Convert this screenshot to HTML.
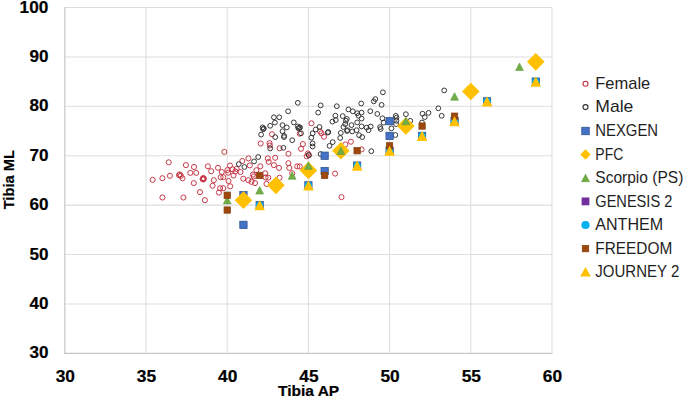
<!DOCTYPE html>
<html><head><meta charset="utf-8"><title>Tibia scatter</title>
<style>
html,body{margin:0;padding:0;background:#fff;}
body{width:685px;height:398px;overflow:hidden;}
svg{display:block;}
.tk{font-family:"Liberation Sans",sans-serif;font-weight:bold;font-size:17px;fill:#000;stroke:#000;stroke-width:0.2px;}
.ax{font-family:"Liberation Sans",sans-serif;font-weight:bold;font-size:15px;fill:#000;stroke:#000;stroke-width:0.2px;}
.lg{font-family:"Liberation Sans",sans-serif;font-size:16.6px;fill:#1e1e1e;}
</style></head>
<body>
<svg width="685" height="398" viewBox="0 0 685 398">
<rect width="685" height="398" fill="#fff"/>
<path d="M64.8 303.9H552M64.8 254.5H552M64.8 205.1H552M64.8 155.7H552M64.8 106.3H552M64.8 56.9H552M64.8 7.5H552M146 7.5V353.3M227.2 7.5V353.3M308.4 7.5V353.3M389.6 7.5V353.3M470.8 7.5V353.3M552 7.5V353.3" stroke="#dedede" stroke-width="1.05" fill="none"/>
<path d="M64.8 7V353.3H552.5" stroke="#c6c6c6" stroke-width="1.2" fill="none"/>
<text x="48.4" y="358.35" text-anchor="end" class="tk" textLength="19" lengthAdjust="spacingAndGlyphs">30</text>
<text x="48.4" y="308.95" text-anchor="end" class="tk" textLength="19" lengthAdjust="spacingAndGlyphs">40</text>
<text x="48.4" y="259.55" text-anchor="end" class="tk" textLength="19" lengthAdjust="spacingAndGlyphs">50</text>
<text x="48.4" y="210.15" text-anchor="end" class="tk" textLength="19" lengthAdjust="spacingAndGlyphs">60</text>
<text x="48.4" y="160.75" text-anchor="end" class="tk" textLength="19" lengthAdjust="spacingAndGlyphs">70</text>
<text x="48.4" y="111.35" text-anchor="end" class="tk" textLength="19" lengthAdjust="spacingAndGlyphs">80</text>
<text x="48.4" y="61.95" text-anchor="end" class="tk" textLength="19" lengthAdjust="spacingAndGlyphs">90</text>
<text x="48.4" y="12.55" text-anchor="end" class="tk" textLength="28.8" lengthAdjust="spacingAndGlyphs">100</text>
<text x="65.3" y="381.9" text-anchor="middle" class="tk" textLength="19.3" lengthAdjust="spacingAndGlyphs">30</text>
<text x="146.5" y="381.9" text-anchor="middle" class="tk" textLength="19.3" lengthAdjust="spacingAndGlyphs">35</text>
<text x="227.7" y="381.9" text-anchor="middle" class="tk" textLength="19.3" lengthAdjust="spacingAndGlyphs">40</text>
<text x="308.9" y="381.9" text-anchor="middle" class="tk" textLength="19.3" lengthAdjust="spacingAndGlyphs">45</text>
<text x="390.1" y="381.9" text-anchor="middle" class="tk" textLength="19.3" lengthAdjust="spacingAndGlyphs">50</text>
<text x="471.3" y="381.9" text-anchor="middle" class="tk" textLength="19.3" lengthAdjust="spacingAndGlyphs">55</text>
<text x="552.5" y="381.9" text-anchor="middle" class="tk" textLength="19.3" lengthAdjust="spacingAndGlyphs">60</text>
<text x="308.6" y="396.2" text-anchor="middle" class="ax" textLength="61.3" lengthAdjust="spacingAndGlyphs">Tibia AP</text>
<text transform="translate(13.7 179.7) rotate(-90)" x="0" y="0" text-anchor="middle" class="ax" textLength="59.3" lengthAdjust="spacingAndGlyphs">Tibia ML</text>
<circle cx="152.6" cy="179.8" r="2.55" fill="none" stroke="#c3303f" stroke-width="0.95"/>
<circle cx="162.4" cy="178.2" r="2.55" fill="none" stroke="#c3303f" stroke-width="0.95"/>
<circle cx="168.7" cy="162.3" r="2.55" fill="none" stroke="#c3303f" stroke-width="0.95"/>
<circle cx="169.9" cy="175.8" r="2.55" fill="none" stroke="#c3303f" stroke-width="0.95"/>
<circle cx="179" cy="175.1" r="2.55" fill="none" stroke="#c3303f" stroke-width="0.95"/>
<circle cx="180.8" cy="175.8" r="2.55" fill="none" stroke="#c3303f" stroke-width="0.95"/>
<circle cx="182.5" cy="178.3" r="2.55" fill="none" stroke="#c3303f" stroke-width="0.95"/>
<circle cx="185.9" cy="165.1" r="2.55" fill="none" stroke="#c3303f" stroke-width="0.95"/>
<circle cx="190.3" cy="172.9" r="2.55" fill="none" stroke="#c3303f" stroke-width="0.95"/>
<circle cx="194" cy="167" r="2.55" fill="none" stroke="#c3303f" stroke-width="0.95"/>
<circle cx="196.2" cy="172.9" r="2.55" fill="none" stroke="#c3303f" stroke-width="0.95"/>
<circle cx="193.8" cy="183.1" r="2.55" fill="none" stroke="#c3303f" stroke-width="0.95"/>
<circle cx="200" cy="192.1" r="2.55" fill="none" stroke="#c3303f" stroke-width="0.95"/>
<circle cx="162.4" cy="197.5" r="2.55" fill="none" stroke="#c3303f" stroke-width="0.95"/>
<circle cx="183.4" cy="197.5" r="2.55" fill="none" stroke="#c3303f" stroke-width="0.95"/>
<circle cx="204.9" cy="200.2" r="2.55" fill="none" stroke="#c3303f" stroke-width="0.95"/>
<circle cx="203.3" cy="178" r="2.55" fill="none" stroke="#c3303f" stroke-width="0.95"/>
<circle cx="203.3" cy="179.5" r="2.55" fill="none" stroke="#c3303f" stroke-width="0.95"/>
<circle cx="207.9" cy="166.3" r="2.55" fill="none" stroke="#c3303f" stroke-width="0.95"/>
<circle cx="211.2" cy="171.2" r="2.55" fill="none" stroke="#c3303f" stroke-width="0.95"/>
<circle cx="212.6" cy="185.7" r="2.55" fill="none" stroke="#c3303f" stroke-width="0.95"/>
<circle cx="213.8" cy="180.2" r="2.55" fill="none" stroke="#c3303f" stroke-width="0.95"/>
<circle cx="218" cy="167.8" r="2.55" fill="none" stroke="#c3303f" stroke-width="0.95"/>
<circle cx="221.8" cy="172" r="2.55" fill="none" stroke="#c3303f" stroke-width="0.95"/>
<circle cx="220.6" cy="177.2" r="2.55" fill="none" stroke="#c3303f" stroke-width="0.95"/>
<circle cx="223.3" cy="177.2" r="2.55" fill="none" stroke="#c3303f" stroke-width="0.95"/>
<circle cx="220.1" cy="188.2" r="2.55" fill="none" stroke="#c3303f" stroke-width="0.95"/>
<circle cx="223.2" cy="188.2" r="2.55" fill="none" stroke="#c3303f" stroke-width="0.95"/>
<circle cx="218.9" cy="192.6" r="2.55" fill="none" stroke="#c3303f" stroke-width="0.95"/>
<circle cx="224.3" cy="151.9" r="2.55" fill="none" stroke="#c3303f" stroke-width="0.95"/>
<circle cx="230" cy="165.5" r="2.55" fill="none" stroke="#c3303f" stroke-width="0.95"/>
<circle cx="227.4" cy="170.1" r="2.55" fill="none" stroke="#c3303f" stroke-width="0.95"/>
<circle cx="228.2" cy="172.7" r="2.55" fill="none" stroke="#c3303f" stroke-width="0.95"/>
<circle cx="228.5" cy="181" r="2.55" fill="none" stroke="#c3303f" stroke-width="0.95"/>
<circle cx="230.2" cy="186.3" r="2.55" fill="none" stroke="#c3303f" stroke-width="0.95"/>
<circle cx="232.6" cy="169.3" r="2.55" fill="none" stroke="#c3303f" stroke-width="0.95"/>
<circle cx="236.6" cy="168.9" r="2.55" fill="none" stroke="#c3303f" stroke-width="0.95"/>
<circle cx="235.3" cy="171.5" r="2.55" fill="none" stroke="#c3303f" stroke-width="0.95"/>
<circle cx="233.5" cy="175.5" r="2.55" fill="none" stroke="#c3303f" stroke-width="0.95"/>
<circle cx="240.5" cy="172" r="2.55" fill="none" stroke="#c3303f" stroke-width="0.95"/>
<circle cx="242.3" cy="161" r="2.55" fill="none" stroke="#c3303f" stroke-width="0.95"/>
<circle cx="248.5" cy="158.4" r="2.55" fill="none" stroke="#c3303f" stroke-width="0.95"/>
<circle cx="249.8" cy="165.4" r="2.55" fill="none" stroke="#c3303f" stroke-width="0.95"/>
<circle cx="243.3" cy="178.7" r="2.55" fill="none" stroke="#c3303f" stroke-width="0.95"/>
<circle cx="248.4" cy="180.2" r="2.55" fill="none" stroke="#c3303f" stroke-width="0.95"/>
<circle cx="251.5" cy="181.8" r="2.55" fill="none" stroke="#c3303f" stroke-width="0.95"/>
<circle cx="255" cy="183.1" r="2.55" fill="none" stroke="#c3303f" stroke-width="0.95"/>
<circle cx="252.9" cy="174.6" r="2.55" fill="none" stroke="#c3303f" stroke-width="0.95"/>
<circle cx="256.4" cy="170.2" r="2.55" fill="none" stroke="#c3303f" stroke-width="0.95"/>
<circle cx="260.3" cy="166.3" r="2.55" fill="none" stroke="#c3303f" stroke-width="0.95"/>
<circle cx="265.2" cy="173.3" r="2.55" fill="none" stroke="#c3303f" stroke-width="0.95"/>
<circle cx="265.6" cy="177.5" r="2.55" fill="none" stroke="#c3303f" stroke-width="0.95"/>
<circle cx="268.3" cy="177.7" r="2.55" fill="none" stroke="#c3303f" stroke-width="0.95"/>
<circle cx="266.5" cy="183.9" r="2.55" fill="none" stroke="#c3303f" stroke-width="0.95"/>
<circle cx="267.8" cy="158.4" r="2.55" fill="none" stroke="#c3303f" stroke-width="0.95"/>
<circle cx="268.7" cy="161.9" r="2.55" fill="none" stroke="#c3303f" stroke-width="0.95"/>
<circle cx="273.9" cy="165.1" r="2.55" fill="none" stroke="#c3303f" stroke-width="0.95"/>
<circle cx="275.2" cy="157.8" r="2.55" fill="none" stroke="#c3303f" stroke-width="0.95"/>
<circle cx="279" cy="167.9" r="2.55" fill="none" stroke="#c3303f" stroke-width="0.95"/>
<circle cx="279.6" cy="177.7" r="2.55" fill="none" stroke="#c3303f" stroke-width="0.95"/>
<circle cx="288.4" cy="163.2" r="2.55" fill="none" stroke="#c3303f" stroke-width="0.95"/>
<circle cx="289.3" cy="167.9" r="2.55" fill="none" stroke="#c3303f" stroke-width="0.95"/>
<circle cx="288.4" cy="153.8" r="2.55" fill="none" stroke="#c3303f" stroke-width="0.95"/>
<circle cx="292.2" cy="173.3" r="2.55" fill="none" stroke="#c3303f" stroke-width="0.95"/>
<circle cx="297.2" cy="166.4" r="2.55" fill="none" stroke="#c3303f" stroke-width="0.95"/>
<circle cx="299.7" cy="166.4" r="2.55" fill="none" stroke="#c3303f" stroke-width="0.95"/>
<circle cx="260.7" cy="143.5" r="2.55" fill="none" stroke="#c3303f" stroke-width="0.95"/>
<circle cx="269.5" cy="143.1" r="2.55" fill="none" stroke="#c3303f" stroke-width="0.95"/>
<circle cx="269.9" cy="145.5" r="2.55" fill="none" stroke="#c3303f" stroke-width="0.95"/>
<circle cx="279.6" cy="148.3" r="2.55" fill="none" stroke="#c3303f" stroke-width="0.95"/>
<circle cx="272" cy="134.2" r="2.55" fill="none" stroke="#c3303f" stroke-width="0.95"/>
<circle cx="299.7" cy="133.7" r="2.55" fill="none" stroke="#c3303f" stroke-width="0.95"/>
<circle cx="302.9" cy="144.1" r="2.55" fill="none" stroke="#c3303f" stroke-width="0.95"/>
<circle cx="301" cy="148.8" r="2.55" fill="none" stroke="#c3303f" stroke-width="0.95"/>
<circle cx="307.9" cy="153.5" r="2.55" fill="none" stroke="#c3303f" stroke-width="0.95"/>
<circle cx="308.8" cy="155.1" r="2.55" fill="none" stroke="#c3303f" stroke-width="0.95"/>
<circle cx="306.7" cy="156.3" r="2.55" fill="none" stroke="#c3303f" stroke-width="0.95"/>
<circle cx="311.5" cy="123.3" r="2.55" fill="none" stroke="#c3303f" stroke-width="0.95"/>
<circle cx="320.1" cy="131.4" r="2.55" fill="none" stroke="#c3303f" stroke-width="0.95"/>
<circle cx="321.4" cy="133.3" r="2.55" fill="none" stroke="#c3303f" stroke-width="0.95"/>
<circle cx="323.9" cy="136.7" r="2.55" fill="none" stroke="#c3303f" stroke-width="0.95"/>
<circle cx="345.3" cy="144.5" r="2.55" fill="none" stroke="#c3303f" stroke-width="0.95"/>
<circle cx="350.9" cy="141.7" r="2.55" fill="none" stroke="#c3303f" stroke-width="0.95"/>
<circle cx="361.6" cy="149.4" r="2.55" fill="none" stroke="#c3303f" stroke-width="0.95"/>
<circle cx="335.1" cy="173.6" r="2.55" fill="none" stroke="#c3303f" stroke-width="0.95"/>
<circle cx="341.5" cy="197.1" r="2.55" fill="none" stroke="#c3303f" stroke-width="0.95"/>
<circle cx="253.8" cy="176.4" r="2.55" fill="none" stroke="#c3303f" stroke-width="0.95"/>
<circle cx="179.8" cy="174.4" r="2.55" fill="none" stroke="#c3303f" stroke-width="0.95"/>
<circle cx="203.9" cy="178.6" r="2.55" fill="none" stroke="#c3303f" stroke-width="0.95"/>
<circle cx="202.6" cy="179" r="2.55" fill="none" stroke="#c3303f" stroke-width="0.95"/>
<circle cx="297.8" cy="102.8" r="2.4" fill="none" stroke="#2e2e2e" stroke-width="0.95"/>
<circle cx="288.1" cy="111.3" r="2.4" fill="none" stroke="#2e2e2e" stroke-width="0.95"/>
<circle cx="273.9" cy="117.3" r="2.4" fill="none" stroke="#2e2e2e" stroke-width="0.95"/>
<circle cx="279.2" cy="117.3" r="2.4" fill="none" stroke="#2e2e2e" stroke-width="0.95"/>
<circle cx="274.9" cy="122.6" r="2.4" fill="none" stroke="#2e2e2e" stroke-width="0.95"/>
<circle cx="270.2" cy="125.8" r="2.4" fill="none" stroke="#2e2e2e" stroke-width="0.95"/>
<circle cx="262.6" cy="127.4" r="2.4" fill="none" stroke="#2e2e2e" stroke-width="0.95"/>
<circle cx="263.2" cy="129.2" r="2.4" fill="none" stroke="#2e2e2e" stroke-width="0.95"/>
<circle cx="282.5" cy="125.1" r="2.4" fill="none" stroke="#2e2e2e" stroke-width="0.95"/>
<circle cx="286.8" cy="127.4" r="2.4" fill="none" stroke="#2e2e2e" stroke-width="0.95"/>
<circle cx="293.8" cy="122.4" r="2.4" fill="none" stroke="#2e2e2e" stroke-width="0.95"/>
<circle cx="297.8" cy="126.4" r="2.4" fill="none" stroke="#2e2e2e" stroke-width="0.95"/>
<circle cx="300.1" cy="127.4" r="2.4" fill="none" stroke="#2e2e2e" stroke-width="0.95"/>
<circle cx="298.4" cy="128.3" r="2.4" fill="none" stroke="#2e2e2e" stroke-width="0.95"/>
<circle cx="261.1" cy="134.6" r="2.4" fill="none" stroke="#2e2e2e" stroke-width="0.95"/>
<circle cx="282.5" cy="131.2" r="2.4" fill="none" stroke="#2e2e2e" stroke-width="0.95"/>
<circle cx="284.2" cy="135.8" r="2.4" fill="none" stroke="#2e2e2e" stroke-width="0.95"/>
<circle cx="284" cy="137.1" r="2.4" fill="none" stroke="#2e2e2e" stroke-width="0.95"/>
<circle cx="275.2" cy="137.1" r="2.4" fill="none" stroke="#2e2e2e" stroke-width="0.95"/>
<circle cx="292.2" cy="140.2" r="2.4" fill="none" stroke="#2e2e2e" stroke-width="0.95"/>
<circle cx="270.2" cy="148.4" r="2.4" fill="none" stroke="#2e2e2e" stroke-width="0.95"/>
<circle cx="283.4" cy="147.8" r="2.4" fill="none" stroke="#2e2e2e" stroke-width="0.95"/>
<circle cx="258.2" cy="157" r="2.4" fill="none" stroke="#2e2e2e" stroke-width="0.95"/>
<circle cx="254.1" cy="161.4" r="2.4" fill="none" stroke="#2e2e2e" stroke-width="0.95"/>
<circle cx="244.4" cy="167" r="2.4" fill="none" stroke="#2e2e2e" stroke-width="0.95"/>
<circle cx="238.8" cy="164.1" r="2.4" fill="none" stroke="#2e2e2e" stroke-width="0.95"/>
<circle cx="320.7" cy="105.4" r="2.4" fill="none" stroke="#2e2e2e" stroke-width="0.95"/>
<circle cx="336.8" cy="106.2" r="2.4" fill="none" stroke="#2e2e2e" stroke-width="0.95"/>
<circle cx="361.2" cy="103.5" r="2.4" fill="none" stroke="#2e2e2e" stroke-width="0.95"/>
<circle cx="318.2" cy="112.6" r="2.4" fill="none" stroke="#2e2e2e" stroke-width="0.95"/>
<circle cx="348.4" cy="109.4" r="2.4" fill="none" stroke="#2e2e2e" stroke-width="0.95"/>
<circle cx="352.8" cy="111.3" r="2.4" fill="none" stroke="#2e2e2e" stroke-width="0.95"/>
<circle cx="357.2" cy="113.2" r="2.4" fill="none" stroke="#2e2e2e" stroke-width="0.95"/>
<circle cx="361.6" cy="112.6" r="2.4" fill="none" stroke="#2e2e2e" stroke-width="0.95"/>
<circle cx="358.4" cy="115.7" r="2.4" fill="none" stroke="#2e2e2e" stroke-width="0.95"/>
<circle cx="361.6" cy="118.6" r="2.4" fill="none" stroke="#2e2e2e" stroke-width="0.95"/>
<circle cx="335.4" cy="115.7" r="2.4" fill="none" stroke="#2e2e2e" stroke-width="0.95"/>
<circle cx="342.7" cy="116.1" r="2.4" fill="none" stroke="#2e2e2e" stroke-width="0.95"/>
<circle cx="335.8" cy="120.1" r="2.4" fill="none" stroke="#2e2e2e" stroke-width="0.95"/>
<circle cx="332.4" cy="121.6" r="2.4" fill="none" stroke="#2e2e2e" stroke-width="0.95"/>
<circle cx="346.8" cy="118.9" r="2.4" fill="none" stroke="#2e2e2e" stroke-width="0.95"/>
<circle cx="345.9" cy="120.7" r="2.4" fill="none" stroke="#2e2e2e" stroke-width="0.95"/>
<circle cx="345.2" cy="124.1" r="2.4" fill="none" stroke="#2e2e2e" stroke-width="0.95"/>
<circle cx="343.4" cy="127" r="2.4" fill="none" stroke="#2e2e2e" stroke-width="0.95"/>
<circle cx="351.5" cy="125.1" r="2.4" fill="none" stroke="#2e2e2e" stroke-width="0.95"/>
<circle cx="357.2" cy="122.4" r="2.4" fill="none" stroke="#2e2e2e" stroke-width="0.95"/>
<circle cx="361.6" cy="126.4" r="2.4" fill="none" stroke="#2e2e2e" stroke-width="0.95"/>
<circle cx="366.6" cy="127.6" r="2.4" fill="none" stroke="#2e2e2e" stroke-width="0.95"/>
<circle cx="368.5" cy="130.2" r="2.4" fill="none" stroke="#2e2e2e" stroke-width="0.95"/>
<circle cx="347.5" cy="130.2" r="2.4" fill="none" stroke="#2e2e2e" stroke-width="0.95"/>
<circle cx="352.2" cy="131.4" r="2.4" fill="none" stroke="#2e2e2e" stroke-width="0.95"/>
<circle cx="356.6" cy="130.2" r="2.4" fill="none" stroke="#2e2e2e" stroke-width="0.95"/>
<circle cx="359.1" cy="135.2" r="2.4" fill="none" stroke="#2e2e2e" stroke-width="0.95"/>
<circle cx="362.2" cy="137.1" r="2.4" fill="none" stroke="#2e2e2e" stroke-width="0.95"/>
<circle cx="340.8" cy="132.9" r="2.4" fill="none" stroke="#2e2e2e" stroke-width="0.95"/>
<circle cx="340.2" cy="138" r="2.4" fill="none" stroke="#2e2e2e" stroke-width="0.95"/>
<circle cx="319.5" cy="127" r="2.4" fill="none" stroke="#2e2e2e" stroke-width="0.95"/>
<circle cx="315.7" cy="129.5" r="2.4" fill="none" stroke="#2e2e2e" stroke-width="0.95"/>
<circle cx="312.6" cy="133.3" r="2.4" fill="none" stroke="#2e2e2e" stroke-width="0.95"/>
<circle cx="311.3" cy="137.7" r="2.4" fill="none" stroke="#2e2e2e" stroke-width="0.95"/>
<circle cx="312.6" cy="143.4" r="2.4" fill="none" stroke="#2e2e2e" stroke-width="0.95"/>
<circle cx="312.6" cy="146.5" r="2.4" fill="none" stroke="#2e2e2e" stroke-width="0.95"/>
<circle cx="328.3" cy="132" r="2.4" fill="none" stroke="#2e2e2e" stroke-width="0.95"/>
<circle cx="332.7" cy="142.1" r="2.4" fill="none" stroke="#2e2e2e" stroke-width="0.95"/>
<circle cx="329.5" cy="145.9" r="2.4" fill="none" stroke="#2e2e2e" stroke-width="0.95"/>
<circle cx="301" cy="133.3" r="2.4" fill="none" stroke="#2e2e2e" stroke-width="0.95"/>
<circle cx="308.8" cy="155.1" r="2.4" fill="none" stroke="#2e2e2e" stroke-width="0.95"/>
<circle cx="320.6" cy="154" r="2.4" fill="none" stroke="#2e2e2e" stroke-width="0.95"/>
<circle cx="382.9" cy="92.3" r="2.4" fill="none" stroke="#2e2e2e" stroke-width="0.95"/>
<circle cx="375.3" cy="99.1" r="2.4" fill="none" stroke="#2e2e2e" stroke-width="0.95"/>
<circle cx="373.8" cy="101.4" r="2.4" fill="none" stroke="#2e2e2e" stroke-width="0.95"/>
<circle cx="381.6" cy="104.9" r="2.4" fill="none" stroke="#2e2e2e" stroke-width="0.95"/>
<circle cx="370.3" cy="111.2" r="2.4" fill="none" stroke="#2e2e2e" stroke-width="0.95"/>
<circle cx="377.3" cy="113.9" r="2.4" fill="none" stroke="#2e2e2e" stroke-width="0.95"/>
<circle cx="382.4" cy="118.3" r="2.4" fill="none" stroke="#2e2e2e" stroke-width="0.95"/>
<circle cx="383.6" cy="122.7" r="2.4" fill="none" stroke="#2e2e2e" stroke-width="0.95"/>
<circle cx="395.8" cy="115.8" r="2.4" fill="none" stroke="#2e2e2e" stroke-width="0.95"/>
<circle cx="396.4" cy="117.7" r="2.4" fill="none" stroke="#2e2e2e" stroke-width="0.95"/>
<circle cx="396.4" cy="120.8" r="2.4" fill="none" stroke="#2e2e2e" stroke-width="0.95"/>
<circle cx="405.9" cy="114.2" r="2.4" fill="none" stroke="#2e2e2e" stroke-width="0.95"/>
<circle cx="410.3" cy="120.8" r="2.4" fill="none" stroke="#2e2e2e" stroke-width="0.95"/>
<circle cx="422.5" cy="113.7" r="2.4" fill="none" stroke="#2e2e2e" stroke-width="0.95"/>
<circle cx="424.7" cy="117.1" r="2.4" fill="none" stroke="#2e2e2e" stroke-width="0.95"/>
<circle cx="428.5" cy="112.9" r="2.4" fill="none" stroke="#2e2e2e" stroke-width="0.95"/>
<circle cx="370.7" cy="126.5" r="2.4" fill="none" stroke="#2e2e2e" stroke-width="0.95"/>
<circle cx="380.1" cy="127.1" r="2.4" fill="none" stroke="#2e2e2e" stroke-width="0.95"/>
<circle cx="380.7" cy="129" r="2.4" fill="none" stroke="#2e2e2e" stroke-width="0.95"/>
<circle cx="391.4" cy="128.4" r="2.4" fill="none" stroke="#2e2e2e" stroke-width="0.95"/>
<circle cx="396.1" cy="124.1" r="2.4" fill="none" stroke="#2e2e2e" stroke-width="0.95"/>
<circle cx="395.4" cy="135" r="2.4" fill="none" stroke="#2e2e2e" stroke-width="0.95"/>
<circle cx="438.3" cy="108.3" r="2.4" fill="none" stroke="#2e2e2e" stroke-width="0.95"/>
<circle cx="441.7" cy="115.8" r="2.4" fill="none" stroke="#2e2e2e" stroke-width="0.95"/>
<circle cx="444.2" cy="90.4" r="2.4" fill="none" stroke="#2e2e2e" stroke-width="0.95"/>
<circle cx="371.3" cy="151.2" r="2.4" fill="none" stroke="#2e2e2e" stroke-width="0.95"/>
<circle cx="422" cy="122.5" r="2.4" fill="none" stroke="#2e2e2e" stroke-width="0.95"/>
<circle cx="327.8" cy="132.6" r="2.4" fill="none" stroke="#2e2e2e" stroke-width="0.95"/>
<circle cx="263.9" cy="128.5" r="2.4" fill="none" stroke="#2e2e2e" stroke-width="0.95"/>
<circle cx="299.3" cy="127.8" r="2.4" fill="none" stroke="#2e2e2e" stroke-width="0.95"/>
<circle cx="347" cy="131" r="2.4" fill="none" stroke="#2e2e2e" stroke-width="0.95"/>
<rect x="239.79" y="191.57" width="7.3" height="7.3" fill="#4472c4" stroke="#2c4f8f" stroke-width="0.75"/>
<rect x="239.79" y="221.21" width="7.3" height="7.3" fill="#4472c4" stroke="#2c4f8f" stroke-width="0.75"/>
<rect x="256.03" y="201.45" width="7.3" height="7.3" fill="#4472c4" stroke="#2c4f8f" stroke-width="0.75"/>
<rect x="304.75" y="181.69" width="7.3" height="7.3" fill="#4472c4" stroke="#2c4f8f" stroke-width="0.75"/>
<rect x="320.99" y="152.05" width="7.3" height="7.3" fill="#4472c4" stroke="#2c4f8f" stroke-width="0.75"/>
<rect x="320.99" y="167.36" width="7.3" height="7.3" fill="#4472c4" stroke="#2c4f8f" stroke-width="0.75"/>
<rect x="353.47" y="161.93" width="7.3" height="7.3" fill="#4472c4" stroke="#2c4f8f" stroke-width="0.75"/>
<rect x="385.95" y="117.47" width="7.3" height="7.3" fill="#4472c4" stroke="#2c4f8f" stroke-width="0.75"/>
<rect x="385.95" y="132.29" width="7.3" height="7.3" fill="#4472c4" stroke="#2c4f8f" stroke-width="0.75"/>
<rect x="385.95" y="147.11" width="7.3" height="7.3" fill="#4472c4" stroke="#2c4f8f" stroke-width="0.75"/>
<rect x="418.43" y="132.29" width="7.3" height="7.3" fill="#4472c4" stroke="#2c4f8f" stroke-width="0.75"/>
<rect x="450.91" y="117.47" width="7.3" height="7.3" fill="#4472c4" stroke="#2c4f8f" stroke-width="0.75"/>
<rect x="483.39" y="97.71" width="7.3" height="7.3" fill="#4472c4" stroke="#2c4f8f" stroke-width="0.75"/>
<rect x="532.11" y="77.95" width="7.3" height="7.3" fill="#4472c4" stroke="#2c4f8f" stroke-width="0.75"/>
<path d="M243.44 191.36L252.24 200.16L243.44 208.96L234.64 200.16Z" fill="#ffc000"/>
<path d="M275.92 176.54L284.72 185.34L275.92 194.14L267.12 185.34Z" fill="#ffc000"/>
<path d="M308.4 161.72L317.2 170.52L308.4 179.32L299.6 170.52Z" fill="#ffc000"/>
<path d="M340.88 141.96L349.68 150.76L340.88 159.56L332.08 150.76Z" fill="#ffc000"/>
<path d="M405.84 117.26L414.64 126.06L405.84 134.86L397.04 126.06Z" fill="#ffc000"/>
<path d="M470.8 82.68L479.6 91.48L470.8 100.28L462 91.48Z" fill="#ffc000"/>
<path d="M535.76 53.04L544.56 61.84L535.76 70.64L526.96 61.84Z" fill="#ffc000"/>
<path d="M227.2 196.41L231.1 203.91L223.3 203.91Z" fill="#70ad47" stroke="#5e9a3a" stroke-width="0.6"/>
<path d="M259.68 186.53L263.58 194.03L255.78 194.03Z" fill="#70ad47" stroke="#5e9a3a" stroke-width="0.6"/>
<path d="M292.16 171.71L296.06 179.21L288.26 179.21Z" fill="#70ad47" stroke="#5e9a3a" stroke-width="0.6"/>
<path d="M308.4 161.83L312.3 169.33L304.5 169.33Z" fill="#70ad47" stroke="#5e9a3a" stroke-width="0.6"/>
<path d="M340.88 147.01L344.78 154.51L336.98 154.51Z" fill="#70ad47" stroke="#5e9a3a" stroke-width="0.6"/>
<path d="M405.84 117.37L409.74 124.87L401.94 124.87Z" fill="#70ad47" stroke="#5e9a3a" stroke-width="0.6"/>
<path d="M454.56 92.67L458.46 100.17L450.66 100.17Z" fill="#70ad47" stroke="#5e9a3a" stroke-width="0.6"/>
<path d="M519.52 63.03L523.42 70.53L515.62 70.53Z" fill="#70ad47" stroke="#5e9a3a" stroke-width="0.6"/>
<circle cx="259.68" cy="205.1" r="3.7" fill="#00b0f0"/>
<circle cx="308.4" cy="185.34" r="3.7" fill="#00b0f0"/>
<circle cx="357.12" cy="165.58" r="3.7" fill="#00b0f0"/>
<circle cx="389.6" cy="150.76" r="3.7" fill="#00b0f0"/>
<circle cx="422.08" cy="135.94" r="3.7" fill="#00b0f0"/>
<circle cx="454.56" cy="121.12" r="3.7" fill="#00b0f0"/>
<circle cx="487.04" cy="101.36" r="3.7" fill="#00b0f0"/>
<circle cx="535.76" cy="81.6" r="3.7" fill="#00b0f0"/>
<rect x="224.05" y="192.07" width="6.3" height="6.3" fill="#9e480e" stroke="#86400f" stroke-width="0.75"/>
<rect x="224.05" y="206.89" width="6.3" height="6.3" fill="#9e480e" stroke="#86400f" stroke-width="0.75"/>
<rect x="256.53" y="172.31" width="6.3" height="6.3" fill="#9e480e" stroke="#86400f" stroke-width="0.75"/>
<rect x="321.49" y="172.31" width="6.3" height="6.3" fill="#9e480e" stroke="#86400f" stroke-width="0.75"/>
<rect x="353.97" y="147.61" width="6.3" height="6.3" fill="#9e480e" stroke="#86400f" stroke-width="0.75"/>
<rect x="386.45" y="142.67" width="6.3" height="6.3" fill="#9e480e" stroke="#86400f" stroke-width="0.75"/>
<rect x="418.93" y="122.91" width="6.3" height="6.3" fill="#9e480e" stroke="#86400f" stroke-width="0.75"/>
<rect x="451.41" y="113.03" width="6.3" height="6.3" fill="#9e480e" stroke="#86400f" stroke-width="0.75"/>
<path d="M259.68 200L264.98 210.2L254.38 210.2Z" fill="#ffc000"/>
<path d="M308.4 180.24L313.7 190.44L303.1 190.44Z" fill="#ffc000"/>
<path d="M357.12 160.48L362.42 170.68L351.82 170.68Z" fill="#ffc000"/>
<path d="M389.6 145.66L394.9 155.86L384.3 155.86Z" fill="#ffc000"/>
<path d="M422.08 130.84L427.38 141.04L416.78 141.04Z" fill="#ffc000"/>
<path d="M454.56 116.02L459.86 126.22L449.26 126.22Z" fill="#ffc000"/>
<path d="M487.04 96.26L492.34 106.46L481.74 106.46Z" fill="#ffc000"/>
<path d="M535.76 76.5L541.06 86.7L530.46 86.7Z" fill="#ffc000"/>
<circle cx="585.5" cy="83.7" r="2.5" fill="none" stroke="#c3303f" stroke-width="1.1"/>
<text x="595.3" y="89" class="lg" textLength="55" lengthAdjust="spacingAndGlyphs">Female</text>
<circle cx="585.5" cy="107.1" r="2.5" fill="none" stroke="#2e2e2e" stroke-width="1.1"/>
<text x="595.3" y="112.4" class="lg" textLength="38" lengthAdjust="spacingAndGlyphs">Male</text>
<rect x="581.75" y="127.25" width="7.5" height="7.5" fill="#4472c4" stroke="#2c4f8f" stroke-width="0.75"/>
<text x="595.3" y="136.3" class="lg" textLength="62.8" lengthAdjust="spacingAndGlyphs">NEXGEN</text>
<path d="M585.5 149.35L590.75 154.6L585.5 159.85L580.25 154.6Z" fill="#ffc000"/>
<text x="595.3" y="159.9" class="lg" textLength="28" lengthAdjust="spacingAndGlyphs">PFC</text>
<path d="M585.5 174.35L589.5 181.65L581.5 181.65Z" fill="#70ad47" stroke="#5e9a3a" stroke-width="0.6"/>
<text x="595.3" y="183.3" class="lg" textLength="88" lengthAdjust="spacingAndGlyphs">Scorpio (PS)</text>
<rect x="581.6" y="197.5" width="7.8" height="7.8" fill="#7030a0"/>
<text x="595.3" y="206.7" class="lg" textLength="77" lengthAdjust="spacingAndGlyphs">GENESIS 2</text>
<circle cx="585.5" cy="225" r="4.1" fill="#00b0f0"/>
<text x="595.3" y="230.3" class="lg" textLength="67.8" lengthAdjust="spacingAndGlyphs">ANTHEM</text>
<rect x="582.3" y="245.4" width="6.4" height="6.4" fill="#9e480e" stroke="#86400f" stroke-width="0.75"/>
<text x="595.3" y="253.9" class="lg" textLength="77" lengthAdjust="spacingAndGlyphs">FREEDOM</text>
<path d="M585.5 267.05L590.85 276.55L580.15 276.55Z" fill="#ffc000"/>
<text x="595.3" y="277.1" class="lg" textLength="84" lengthAdjust="spacingAndGlyphs">JOURNEY 2</text>
</svg>
</body></html>
